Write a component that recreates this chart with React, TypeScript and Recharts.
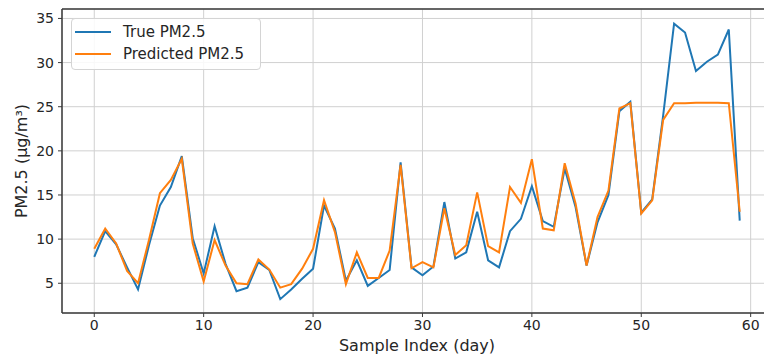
import React from 'react';
import { LineChart, Line, XAxis, YAxis, CartesianGrid, ReferenceLine } from 'recharts';

const sampleIndex: number[] = Array.from({ length: 60 }, (_, i) => i);

const trueVals: number[] = [
  8.0, 10.9, 9.4, 6.8, 4.3, 9.3, 13.8, 15.9, 19.4, 10.1,
  6.1, 11.45, 7.2, 4.1, 4.5, 7.4, 6.5, 3.2, 4.3, 5.5,
  6.65, 13.8, 11.2, 5.3, 7.6, 4.7, 5.6, 6.5, 18.7, 6.8,
  5.9, 6.9, 14.2, 7.8, 8.5, 13.1, 7.6, 6.8, 10.9, 12.3,
  16.0, 12.05, 11.4, 18.0, 13.6, 7.0, 11.9, 15.0, 24.5, 25.55,
  13.0, 14.5, 24.0, 34.4, 33.4, 29.05, 30.1, 30.9, 33.75, 12.1,
];

const predVals: number[] = [
  8.9, 11.2, 9.5, 6.4, 5.0, 9.9, 15.2, 16.7, 19.1, 9.5,
  5.2, 9.9, 7.0, 5.0, 4.9, 7.7, 6.55, 4.5, 4.9, 6.65,
  8.9, 14.4, 10.8, 4.9, 8.5, 5.6, 5.6, 8.7, 18.4, 6.7,
  7.4, 6.8, 13.5, 8.2, 9.3, 15.3, 9.2, 8.5, 15.9, 14.1,
  19.05, 11.2, 11.0, 18.6, 14.0, 7.0, 12.5, 15.5, 24.8, 25.4,
  12.9, 14.4, 23.5, 25.4, 25.4, 25.45, 25.45, 25.45, 25.4, 13.1,
];

const xTicks: number[] = [0, 10, 20, 30, 40, 50, 60];
const yTicks: number[] = [5, 10, 15, 20, 25, 30, 35];
const seriesNames: string[] = ['True PM2.5', 'Predicted PM2.5'];
const seriesColors: string[] = ['#1f77b4', '#ff7f0e'];

const data = sampleIndex.map((idx, i) => ({ idx, trueV: trueVals[i], predV: predVals[i] }));

const X_MIN = -2.95;
const X_MAX = 61.95;
const Y_MIN = 1.63;
const Y_MAX = 36.07;

const FONT = '"DejaVu Sans", sans-serif';
const SPINE = '#3a3a3a';

const LegendBox = () => (
  <div
    style={{
      position: 'absolute',
      left: 71,
      top: 18,
      width: 190,
      height: 52,
      border: '1px solid #d4d4d4',
      borderRadius: 4,
      background: 'rgba(255,255,255,0.85)',
      boxSizing: 'border-box',
      fontFamily: FONT,
      fontSize: 15,
      color: '#262626',
    }}
  >
    {seriesNames.map((name, i) => (
      <div key={name} style={{ position: 'absolute', left: 3, top: 1.5 + i * 22.6, height: 22, display: 'flex', alignItems: 'center' }}>
        <div style={{ width: 36, height: 2, background: seriesColors[i] }} />
        <span style={{ marginLeft: 12, whiteSpace: 'nowrap', lineHeight: '22px' }}>{name}</span>
      </div>
    ))}
  </div>
);

export default function App() {
  return (
    <div style={{ position: 'absolute', left: 0, top: 0, width: 764, height: 358, overflow: 'hidden', background: '#fff' }}>
      <LineChart width={772} height={358} data={data} margin={{ top: 9, right: 0, bottom: 0, left: 0 }}>
        <CartesianGrid stroke="#d0d0d0" strokeWidth={1} />
        <XAxis
          dataKey="idx"
          type="number"
          domain={[X_MIN, X_MAX]}
          ticks={xTicks}
          allowDataOverflow
          height={45}
          tickSize={4}
          tickMargin={3}
          stroke={SPINE}
          axisLine={{ stroke: SPINE, strokeWidth: 1.5 }}
          tickLine={{ stroke: SPINE }}
          tick={{ fontFamily: FONT, fontSize: 14, fill: '#262626' }}
          label={{ value: 'Sample Index (day)', position: 'insideBottom', offset: 7, style: { fontFamily: FONT, fontSize: 16, fill: '#262626' } }}
        />
        <YAxis
          type="number"
          domain={[Y_MIN, Y_MAX]}
          ticks={yTicks}
          allowDataOverflow
          width={62}
          tickSize={4}
          tickMargin={4}
          stroke={SPINE}
          axisLine={{ stroke: SPINE, strokeWidth: 1.5 }}
          tickLine={{ stroke: SPINE }}
          tick={{ fontFamily: FONT, fontSize: 14, fill: '#262626' }}
          label={{ value: 'PM2.5 (µg/m³)', angle: -90, position: 'insideLeft', offset: 21, style: { fontFamily: FONT, fontSize: 16, fill: '#262626', textAnchor: 'middle' } }}
        />
        <ReferenceLine y={Y_MAX} stroke={SPINE} strokeWidth={1.5} ifOverflow="visible" />
        <Line type="linear" dataKey="trueV" name={seriesNames[0]} stroke={seriesColors[0]} strokeWidth={2} dot={false} isAnimationActive={false} />
        <Line type="linear" dataKey="predV" name={seriesNames[1]} stroke={seriesColors[1]} strokeWidth={2} dot={false} isAnimationActive={false} />
      </LineChart>
      <LegendBox />
    </div>
  );
}
